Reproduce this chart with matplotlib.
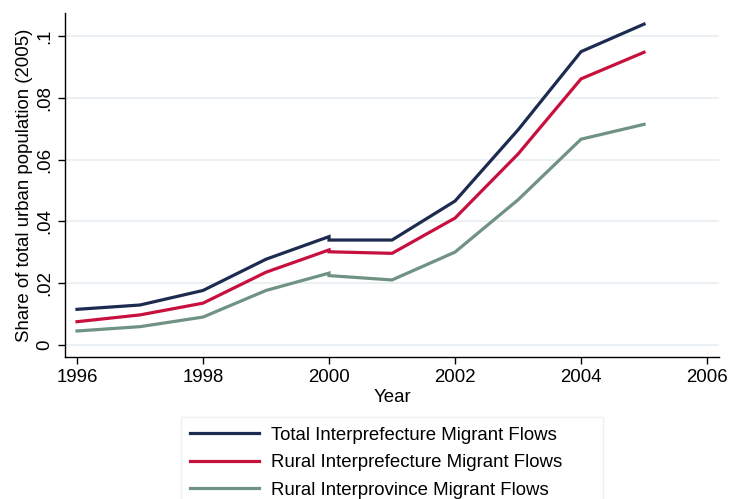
import matplotlib
matplotlib.use("Agg")
import matplotlib.pyplot as plt

plt.rcParams['font.family'] = ['Liberation Sans', 'DejaVu Sans']

# 2000 appears twice in the source series (small step down there)
years = [1996, 1997, 1998, 1999, 2000, 2000, 2001, 2002, 2003, 2004, 2005]
total_pref = [0.0116, 0.0130, 0.0177, 0.0278, 0.0351, 0.0340, 0.0340, 0.0466, 0.0696, 0.0949, 0.1038]
rural_pref = [0.0076, 0.0098, 0.0136, 0.0236, 0.0308, 0.0302, 0.0297, 0.0411, 0.0618, 0.0861, 0.0947]
rural_prov = [0.0046, 0.0060, 0.0091, 0.0177, 0.0233, 0.0225, 0.0211, 0.0301, 0.0470, 0.0666, 0.0714]

labels = ["Total Interprefecture Migrant Flows",
          "Rural Interprefecture Migrant Flows",
          "Rural Interprovince Migrant Flows"]
colors = ['#1c2b4f', '#c8103e', '#6f9283']

xticks = [1996, 1998, 2000, 2002, 2004, 2006]
yticks = [0, 0.02, 0.04, 0.06, 0.08, 0.1]
ytick_labels = ['0', '.02', '.04', '.06', '.08', '.1']

fs = 13.4
fig = plt.figure(figsize=(7.29, 4.99), dpi=100)
ax = fig.add_axes([0.0892, 0.284, 0.8971, 0.690])

for vals, c, lab in zip([total_pref, rural_pref, rural_prov], colors, labels):
    ax.plot(years, vals, color=c, lw=2.3, label=lab, solid_joinstyle='miter')

ax.set_xlim(1995.81, 2006.19)
ax.set_ylim(-0.0039, 0.1074)
ax.set_xticks(xticks)
ax.set_xticklabels([str(x) for x in xticks], fontsize=fs)
ax.set_yticks(yticks)
ax.set_yticklabels(ytick_labels, fontsize=fs, rotation=90, va='center')
ax.tick_params(length=5, width=1, color='black')
ax.yaxis.grid(True, color='#e6eef2', lw=1.2)
ax.set_axisbelow(True)
for s in ['top', 'right']:
    ax.spines[s].set_visible(False)
for s in ['left', 'bottom']:
    ax.spines[s].set_linewidth(1)

ax.set_xlabel("Year", fontsize=fs, labelpad=2)
ax.set_ylabel("Share of total urban population (2005)", fontsize=fs, labelpad=2)

leg = fig.legend(loc='upper left', mode='expand', borderaxespad=0,
                 bbox_to_anchor=(180.7 / 729, 0, 422 / 729, 1 - 417.3 / 499),
                 fontsize=fs, frameon=True, fancybox=False, handlelength=3.7,
                 handletextpad=0.65, labelspacing=0.55, borderpad=0.52)
leg.get_frame().set_edgecolor('#e8eef0')
leg.get_frame().set_linewidth(1)

fig.savefig("out.png", dpi=100)
